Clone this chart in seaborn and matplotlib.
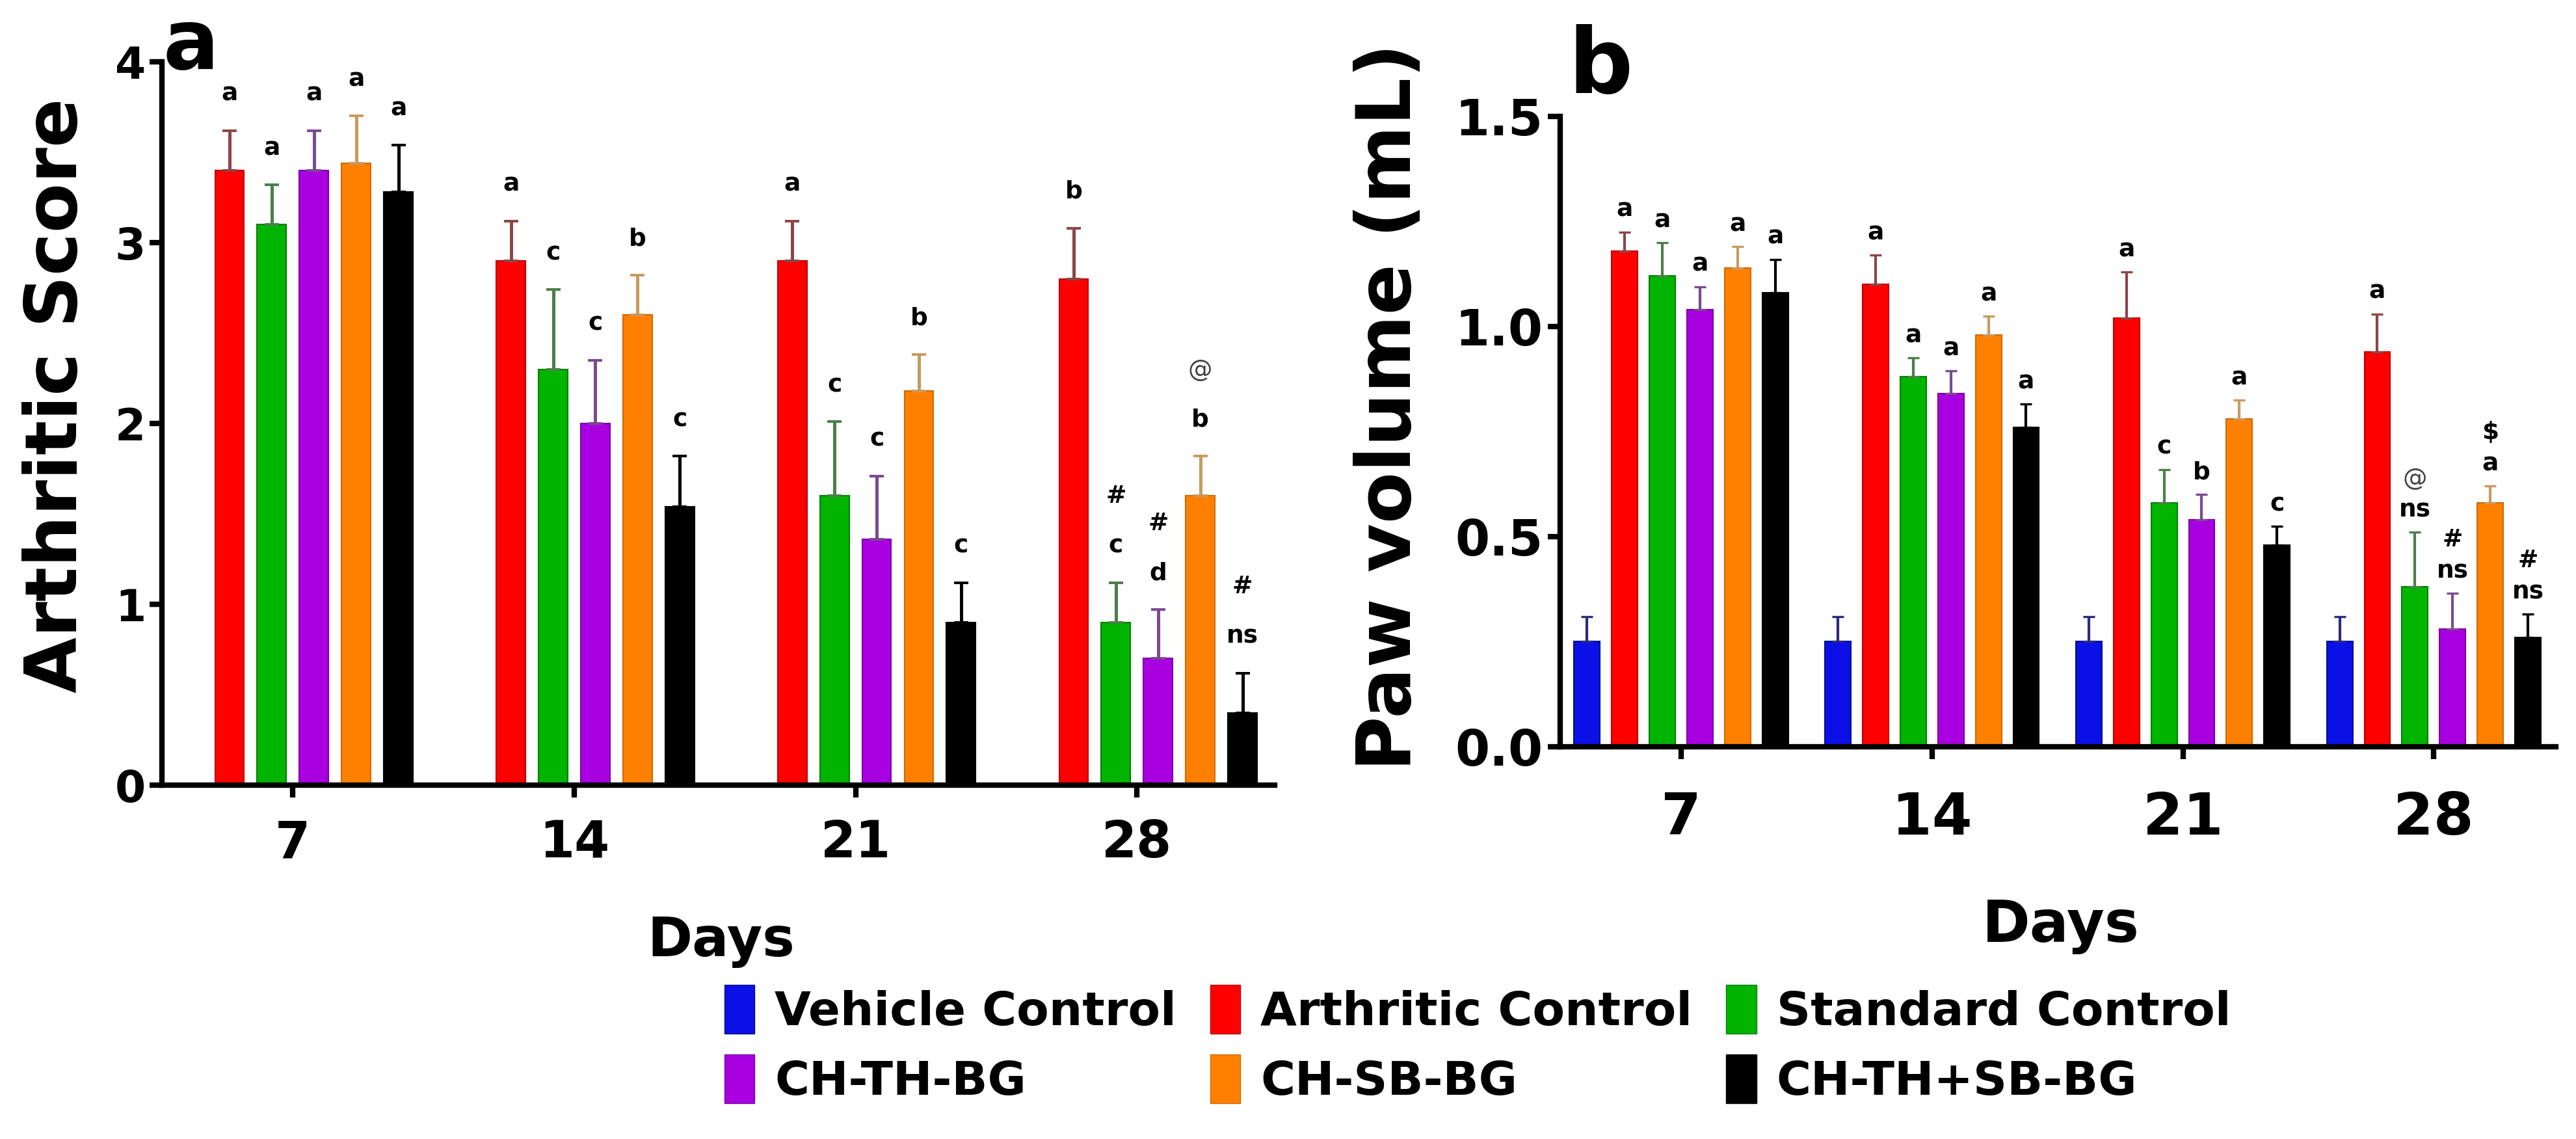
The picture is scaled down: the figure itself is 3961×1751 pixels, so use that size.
import matplotlib
matplotlib.use("Agg")
import matplotlib.pyplot as plt
from matplotlib.patches import Patch
import numpy as np
import pandas as pd
import seaborn as sns

# ---- data ----
days = ["7", "14", "21", "28"]
groups = ["Vehicle Control", "Arthritic Control", "Standard Control",
          "CH-TH-BG", "CH-SB-BG", "CH-TH+SB-BG"]

bar_colors = ["#0a10e6", "#ff0000", "#00b400", "#a800e0", "#ff8000", "#000000"]
edge_colors = ["#06108a", "#c00000", "#008000", "#7a00a8", "#d06a00", "#000000"]
err_colors = ["#2a2a80", "#8c4646", "#4a7f4a", "#7a4a90", "#c89a60", "#000000"]

# panel a: arthritic score (mean, SEM)
score_mean = {
    "Vehicle Control":   [0.0, 0.0, 0.0, 0.0],
    "Arthritic Control": [3.40, 2.90, 2.90, 2.80],
    "Standard Control":  [3.10, 2.30, 1.60, 0.90],
    "CH-TH-BG":          [3.40, 2.00, 1.36, 0.70],
    "CH-SB-BG":          [3.44, 2.60, 2.18, 1.60],
    "CH-TH+SB-BG":       [3.28, 1.54, 0.90, 0.40],
}
score_sem = {
    "Vehicle Control":   [np.nan, np.nan, np.nan, np.nan],
    "Arthritic Control": [0.22, 0.22, 0.22, 0.28],
    "Standard Control":  [0.22, 0.44, 0.41, 0.22],
    "CH-TH-BG":          [0.22, 0.35, 0.35, 0.27],
    "CH-SB-BG":          [0.26, 0.22, 0.20, 0.22],
    "CH-TH+SB-BG":       [0.26, 0.28, 0.22, 0.22],
}
score_marks = {
    "Vehicle Control":   ["", "", "", ""],
    "Arthritic Control": ["a", "a", "a", "b"],
    "Standard Control":  ["a", "c", "c", "#\nc"],
    "CH-TH-BG":          ["a", "c", "c", "#\nd"],
    "CH-SB-BG":          ["a", "b", "b", "@\nb"],
    "CH-TH+SB-BG":       ["a", "c", "c", "#\nns"],
}

# panel b: paw volume in mL (mean, SEM)
paw_mean = {
    "Vehicle Control":   [0.25, 0.25, 0.25, 0.25],
    "Arthritic Control": [1.18, 1.10, 1.02, 0.94],
    "Standard Control":  [1.12, 0.88, 0.58, 0.38],
    "CH-TH-BG":          [1.04, 0.84, 0.54, 0.28],
    "CH-SB-BG":          [1.14, 0.98, 0.78, 0.58],
    "CH-TH+SB-BG":       [1.08, 0.76, 0.48, 0.26],
}
paw_sem = {
    "Vehicle Control":   [0.06, 0.06, 0.06, 0.06],
    "Arthritic Control": [0.045, 0.07, 0.11, 0.09],
    "Standard Control":  [0.08, 0.045, 0.08, 0.13],
    "CH-TH-BG":          [0.055, 0.055, 0.06, 0.085],
    "CH-SB-BG":          [0.05, 0.045, 0.045, 0.04],
    "CH-TH+SB-BG":       [0.08, 0.055, 0.045, 0.055],
}
paw_marks = {
    "Vehicle Control":   ["", "", "", ""],
    "Arthritic Control": ["a", "a", "a", "a"],
    "Standard Control":  ["a", "a", "c", "@\nns"],
    "CH-TH-BG":          ["a", "a", "b", "#\nns"],
    "CH-SB-BG":          ["a", "a", "a", "$\na"],
    "CH-TH+SB-BG":       ["a", "a", "c", "#\nns"],
}


def long_table(mean):
    rows = []
    for g in groups:
        for d, v in zip(days, mean[g]):
            rows.append({"Day": d, "Group": g, "Value": v})
    return pd.DataFrame(rows)


sns.set_style("ticks", {"axes.edgecolor": "black", "text.color": "black",
                        "xtick.color": "black", "ytick.color": "black",
                        "axes.labelcolor": "black"})
plt.rcParams["font.family"] = ["DejaVu Sans"]
plt.rcParams["font.weight"] = "bold"

fig = plt.figure(figsize=(39.61, 17.51), dpi=100)
ax_a = fig.add_axes([0.0629, 0.3107, 0.432, 0.635])
ax_b = fig.add_axes([0.6057, 0.3444, 0.3865, 0.5534])


def draw_panel(ax, mean, sem, marks, base_off, pitch, capsize, elw):
    df = long_table(mean)
    sns.barplot(data=df, x="Day", y="Value", hue="Group", order=days,
                hue_order=groups, palette=bar_colors, saturation=1,
                errorbar=None, width=0.9, gap=0.31, ax=ax, legend=False,
                zorder=2)
    for i, (g, cont) in enumerate(zip(groups, ax.containers)):
        for p in cont:
            p.set_edgecolor(edge_colors[i])
            p.set_linewidth(1.5)
        xs = np.array([p.get_x() + p.get_width() / 2 for p in cont])
        hs = np.array([p.get_height() for p in cont])
        s = np.array(sem[g], dtype=float)
        ok = ~np.isnan(s)
        if ok.any():
            ax.errorbar(xs[ok], hs[ok], yerr=[np.zeros(ok.sum()), s[ok]],
                        fmt="none", ecolor=err_colors[i], elinewidth=elw,
                        capsize=capsize, capthick=elw * 0.8, zorder=3)
        for x, h, e, m in zip(xs, hs, s, marks[g]):
            if not m:
                continue
            top = h + (0 if np.isnan(e) else e)
            for k, line in enumerate(reversed(m.split("\n"))):
                weight = "normal" if line == "@" else "bold"
                color = "#444444" if line == "@" else "black"
                ax.annotate(line, xy=(x, top),
                            xytext=(0, base_off + k * pitch),
                            textcoords="offset points", ha="center",
                            va="baseline", fontsize=27, fontweight=weight,
                            color=color)
    sns.despine(ax=ax)
    for sp in ["left", "bottom"]:
        ax.spines[sp].set_linewidth(6)
    ax.tick_params(axis="both", length=14, width=6, direction="out")
    ax.set_xlabel("")
    ax.set_ylabel("")


draw_panel(ax_a, score_mean, score_sem, score_marks, 33, 55, 8, 3.6)
ax_a.set_ylim(0, 4)
ax_a.set_yticks([0, 1, 2, 3, 4])
ax_a.set_xlim(-0.465, 3.49)
ax_a.tick_params(axis="y", labelsize=49, pad=4)
ax_a.tick_params(axis="x", labelsize=56, pad=23)

draw_panel(ax_b, paw_mean, paw_sem, paw_marks, 17, 35, 6.5, 3)
ax_b.set_ylim(0, 1.5)
ax_b.set_yticks([0.0, 0.5, 1.0, 1.5])
ax_b.set_yticklabels(["0.0", "0.5", "1.0", "1.5"])
ax_b.set_xlim(-0.482, 3.487)
ax_b.tick_params(axis="y", labelsize=55, pad=5)
ax_b.tick_params(axis="x", labelsize=64, pad=34)

for lab in ax_a.get_xticklabels() + ax_a.get_yticklabels() + \
        ax_b.get_xticklabels() + ax_b.get_yticklabels():
    lab.set_fontweight("bold")

# axis titles and panel letters
fig.text(0.0298, 0.6528, "Arthritic Score", rotation=90, rotation_mode="anchor",
         ha="center", va="baseline", fontsize=80, fontweight="bold")
fig.text(0.5476, 0.643, "Paw volume (mL)", rotation=90, rotation_mode="anchor",
         ha="center", va="baseline", fontsize=83, fontweight="bold")
fig.text(0.280, 1 - 1470 / 1751, "Days", ha="center", va="baseline",
         fontsize=60, fontweight="bold")
fig.text(0.800, 1 - 1448 / 1751, "Days", ha="center", va="baseline",
         fontsize=64, fontweight="bold")
fig.text(0.0633, 1 - 106 / 1751, "a", ha="left", va="baseline",
         fontsize=92, fontweight="bold")
fig.text(0.6087, 1 - 143 / 1751, "b", ha="left", va="baseline",
         fontsize=100, fontweight="bold")

# legend: column-major order so rows read like the original
order = [0, 3, 1, 4, 2, 5]
handles = [Patch(facecolor=bar_colors[i], edgecolor=edge_colors[i]) for i in order]
labels = [groups[i] for i in order]
fig.legend(handles, labels, loc="upper left", bbox_to_anchor=(0.2812, 0.1354),
           ncol=3, frameon=False, handlelength=0.64, handleheight=1.22,
           handletextpad=0.43, columnspacing=0.72, labelspacing=0.42,
           borderpad=0, borderaxespad=0, prop={"weight": "bold", "size": 52})

fig.savefig("out.png", dpi=100, facecolor="white")
